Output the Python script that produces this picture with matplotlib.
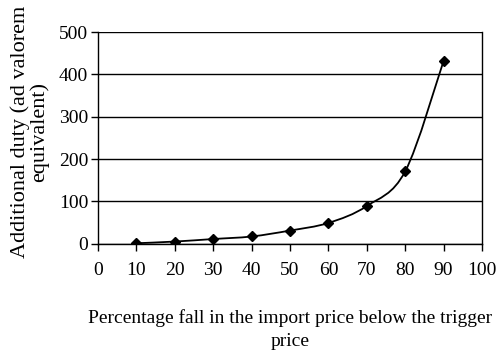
import numpy as np
import matplotlib
matplotlib.use("Agg")
import matplotlib.pyplot as plt
from matplotlib.path import Path
from matplotlib.patches import PathPatch

plt.rcParams['font.family'] = ['Liberation Serif', 'DejaVu Serif']

## Donnees
fall_pct = [10, 20, 30, 40, 50, 60, 70, 80, 90]
duty = [1, 5, 11, 17, 31, 49, 89, 171, 432]
x_ticks = list(range(0, 101, 10))
y_ticks = list(range(0, 501, 100))


def smooth_path(x, y):
    # courbe lissee facon Excel (Bezier a partir de Catmull-Rom)
    x = np.asarray(x, float)
    y = np.asarray(y, float)
    n = len(x)
    verts = [(x[0], y[0])]
    codes = [Path.MOVETO]
    for i in range(n - 1):
        i0 = max(i - 1, 0)
        i3 = min(i + 2, n - 1)
        c1 = (x[i] + (x[i + 1] - x[i0]) / 6, y[i] + (y[i + 1] - y[i0]) / 6)
        c2 = (x[i + 1] - (x[i3] - x[i]) / 6, y[i + 1] - (y[i3] - y[i]) / 6)
        verts += [c1, c2, (x[i + 1], y[i + 1])]
        codes += [Path.CURVE4] * 3
    return Path(verts, codes)


fig = plt.figure(figsize=(5, 3.61), dpi=100)
ax = fig.add_axes([0.196, 0.325, 0.768, 0.586])

ax.add_patch(PathPatch(smooth_path(fall_pct, duty), fill=False,
                       edgecolor='black', lw=1.3, zorder=3))
ax.plot(fall_pct, duty, ls='none', marker='D', ms=5.2, color='black', zorder=4)

ax.set_xlim(0, 100)
ax.set_ylim(0, 500)
ax.set_xticks(x_ticks)
ax.set_yticks(y_ticks)
ax.yaxis.grid(True, color='black', lw=1)
ax.set_axisbelow(True)
ax.spines['top'].set_visible(False)
for s in ax.spines.values():
    s.set_linewidth(1)
ax.tick_params(axis='both', labelsize=14, length=5, width=1, direction='out')
ax.tick_params(axis='x', pad=8)
ax.tick_params(axis='y', pad=2)

ax.set_xlabel("Percentage fall in the import price below the trigger\nprice",
              fontsize=14, labelpad=22, linespacing=1.45)
ax.set_ylabel("Additional duty (ad valorem\nequivalent)", fontsize=16,
              linespacing=0.95)
ax.yaxis.set_label_coords(-0.128, 0.53)

fig.savefig("out.png", dpi=100)
